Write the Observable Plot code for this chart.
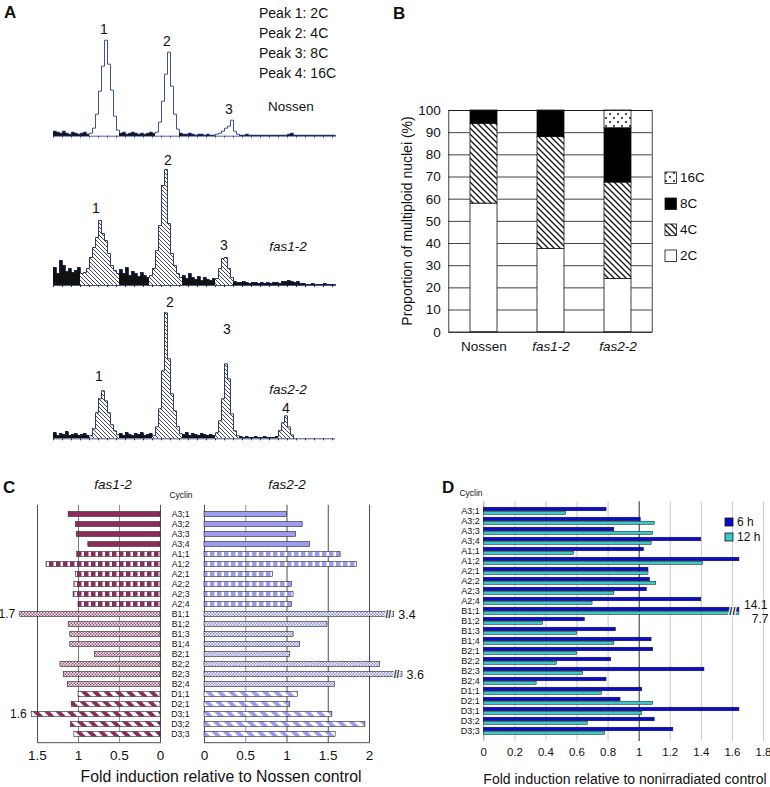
<!DOCTYPE html>
<html><head><meta charset="utf-8">
<script src="https://cdn.jsdelivr.net/npm/d3@7"></script>
<script src="https://cdn.jsdelivr.net/npm/@observablehq/plot@0.6"></script>
<style>
body{margin:0;background:#fff;}
#page{position:relative;width:770px;height:787px;overflow:hidden;font-family:"Liberation Sans",Arial,sans-serif;color:#111;background:#fff;}
#page svg.plotlayer{position:absolute;left:0;top:0;}
.lbl{position:absolute;line-height:1;white-space:nowrap;}
</style></head><body>
<div id="page">
<svg width="0" height="0" style="position:absolute">
<defs>
<pattern id="hatchA" patternUnits="userSpaceOnUse" width="4" height="4">
<rect width="4" height="4" fill="#fff"/>
<path d="M-1,-1 L5,5 M-1,3 L1,5 M3,-1 L5,1" stroke="#1a1a2a" stroke-width="0.8"/>
</pattern>
<pattern id="hatchB" patternUnits="userSpaceOnUse" width="6" height="6">
<rect width="6" height="6" fill="#fff"/>
<path d="M-1,-1 L7,7 M-1,5 L1,7 M5,-1 L7,1" stroke="#111" stroke-width="1.3"/>
</pattern>
<pattern id="dotsB" patternUnits="userSpaceOnUse" width="8" height="8">
<rect width="8" height="8" fill="#fff"/>
<circle cx="2" cy="2" r="1" fill="#111"/><circle cx="6" cy="6" r="1" fill="#111"/>
</pattern>
<pattern id="dash1" patternUnits="userSpaceOnUse" width="7" height="10">
<rect width="7" height="10" fill="#fff"/><rect width="4.5" height="10" fill="#8e2b5d"/>
</pattern>
<pattern id="dot1" patternUnits="userSpaceOnUse" width="3" height="3">
<rect width="3" height="3" fill="#fff"/><rect width="1.5" height="1.5" fill="#a24878"/><rect x="1.5" y="1.5" width="1.5" height="1.5" fill="#a24878"/>
</pattern>
<pattern id="stripe1" patternUnits="userSpaceOnUse" width="8" height="8" patternTransform="rotate(-45)">
<rect width="8" height="8" fill="#fff"/><rect width="4" height="8" fill="#8e2b5d"/>
</pattern>
<pattern id="dash2" patternUnits="userSpaceOnUse" width="7" height="10">
<rect width="7" height="10" fill="#fff"/><rect width="4.5" height="10" fill="#9c9cf0"/>
</pattern>
<pattern id="dot2" patternUnits="userSpaceOnUse" width="3" height="3">
<rect width="3" height="3" fill="#fff"/><rect width="1.5" height="1.5" fill="#8c8ce8"/><rect x="1.5" y="1.5" width="1.5" height="1.5" fill="#8c8ce8"/>
</pattern>
<pattern id="stripe2" patternUnits="userSpaceOnUse" width="8" height="8" patternTransform="rotate(-45)">
<rect width="8" height="8" fill="#fff"/><rect width="4" height="8" fill="#9c9cf0"/>
</pattern>
</defs>
</svg>
</div>
<script>
// ---------------- DATA ----------------
// Panel A: flow cytometry histograms (counts per 3-channel bin)
const nossenCounts = [5,4,3,5,3,2,4,3,2,3,4,2,
  3,8,22,45,70,96,72,46,20,6,
  3,4,2,3,4,3,2,3,2,3,4,3,
  4,14,35,62,84,50,22,7,
  3,2,2,3,2,1,2,2,1,2,1,
  1,2,3,5,8,10,16,5,2,
  1,1,2,1,1,1,1,1,1,1,1,1,1,1,1,1,2,3,1,1,1,1,1,1,1,1,1,1,1,1,1,1];
const nossenPeaks = [[12,21],[34,41],[54,61]];
const fas1Counts = [18,12,25,20,14,17,13,15,18,
  12,13,17,28,38,48,65,52,45,32,20,15,12,
  16,12,18,10,14,12,9,13,10,8,
  10,17,35,60,100,116,62,32,20,12,8,
  10,7,12,8,6,9,5,8,6,5,7,
  7,17,27,28,17,8,
  4,3,3,4,3,2,3,3,2,3,2,3,2,3,3,2,4,4,5,4,3,4,2,2,1,1,2,1,1,1,2,1,1,1];
const fas1Peaks = [[9,21],[32,42],[54,59]];
const fas2Counts = [6,3,5,4,7,3,4,5,3,4,5,3,
  3,10,26,40,48,38,26,14,8,4,
  5,3,6,4,3,5,4,6,3,4,5,
  3,12,30,68,126,80,45,28,12,5,
  4,6,3,5,4,3,5,4,3,4,3,
  6,18,40,75,60,25,8,3,
  2,1,2,1,1,2,1,1,2,1,1,1,2,
  8,16,23,12,4];
const fas2Peaks = [[12,21],[33,42],[54,61],[75,79]];
const peakLegend = ["Peak 1: 2C","Peak 2: 4C","Peak 3: 8C","Peak 4: 16C"];

// Panel B: ploidy distribution (%)
const samples = ["Nossen","fas1-2","fas2-2"];
const ploidy = ["2C","4C","8C","16C"];
const p2C = [58, 37.5, 24];
const p4C = [36, 50.5, 43.5];
const p8C = [6, 12, 24.5];
const p16C = [0, 0, 8];
const bTicks = [0,10,20,30,40,50,60,70,80,90,100];

// Panel C & D: cyclins
const cyclins = ["A3;1","A3;2","A3;3","A3;4","A1;1","A1;2","A2;1","A2;2","A2;3","A2;4",
  "B1;1","B1;2","B1;3","B1;4","B2;1","B2;2","B2;3","B2;4","D1;1","D2;1","D3;1","D3;2","D3;3"];
const fas1Fold = [1.12,1.03,1.02,0.88,1.02,1.39,1.03,1.05,1.06,1.00,1.71,1.12,1.10,1.10,0.80,1.22,1.18,1.13,1.00,1.08,1.57,1.09,1.05];
const fas2Fold = [1.00,1.19,1.11,1.28,1.65,1.85,0.83,1.06,1.08,1.06,3.4,1.49,1.08,1.16,1.04,2.13,3.6,1.58,1.13,1.04,1.55,1.95,1.59];
const cTicksLeft = [0,0.5,1,1.5];
const cTicksRight = [0,0.5,1,1.5,2];
const h6 = [0.79,1.01,0.84,1.40,1.03,1.71,1.06,1.07,1.05,1.40,14.1,0.65,0.85,1.08,1.09,0.82,1.42,0.79,1.02,0.88,1.65,1.10,1.22];
const h12 = [0.53,1.10,1.09,1.08,0.58,1.41,1.06,1.11,0.84,0.70,7.7,0.38,0.60,0.84,0.60,0.47,0.64,0.34,0.76,1.09,1.02,0.67,0.78];
const dTicks = [0,0.2,0.4,0.6,0.8,1,1.2,1.4,1.6,1.8];

// ---------------- HELPERS ----------------
const FONT = '"Liberation Sans", Arial, sans-serif';
const page = document.getElementById("page");
function layer(opts, fontSize = "13px") {
  const svg = Plot.plot({
    width: 770, height: 787,
    style: {background: "transparent", fontFamily: FONT, fontSize, color: "#111", overflow: "visible"},
    ...opts
  });
  svg.classList.add("plotlayer");
  page.appendChild(svg);
  return svg;
}
function label(txt, x, y, o = {}) {
  const el = document.createElement("div");
  el.className = "lbl";
  el.textContent = txt;
  el.style.left = x + "px";
  el.style.top = y + "px";
  el.style.fontSize = (o.size || 13) + "px";
  if (o.bold) el.style.fontWeight = "bold";
  if (o.italic) el.style.fontStyle = "italic";
  const tx = o.anchor === "middle" ? "-50%" : o.anchor === "end" ? "-100%" : "0";
  el.style.transform = `translate(${tx},-50%)` + (o.rotate ? ` rotate(${o.rotate}deg)` : "");
  page.appendChild(el);
  return el;
}
function swatch(x, y, size, fill) {
  const ns = "http://www.w3.org/2000/svg";
  const s = document.createElementNS(ns, "svg");
  s.setAttribute("width", size + 2); s.setAttribute("height", size + 2);
  s.style.position = "absolute"; s.style.left = (x - 1) + "px"; s.style.top = (y - 1) + "px";
  const r = document.createElementNS(ns, "rect");
  r.setAttribute("x", 1); r.setAttribute("y", 1); r.setAttribute("width", size); r.setAttribute("height", size);
  r.setAttribute("fill", fill); r.setAttribute("stroke", "#111"); r.setAttribute("stroke-width", 0.8);
  s.appendChild(r); page.appendChild(s);
}

// ---------------- PANEL A ----------------
const BIN = 3;
function hist(counts, peaks, base, ymax, peakFill, outline) {
  const bins = counts.map((c, i) => ({x1: i * BIN, x2: i * BIN + BIN, c, peak: peaks.some(([a, b]) => i >= a && i <= b)}));
  const pts = bins.map(d => ({x: d.x1, c: d.c})).concat([{x: bins[bins.length - 1].x2, c: 0}]);
  layer({
    marginLeft: 53, marginRight: 770 - 335, marginTop: base - ymax, marginBottom: 787 - base,
    x: {domain: [0, 282], axis: null, label: null},
    y: {domain: [0, ymax], axis: null, label: null},
    marks: [
      Plot.rectY(bins.filter(d => !d.peak), {x1: "x1", x2: "x2", y1: 0, y2: "c", fill: "#111", shapeRendering: "crispEdges"}),
      Plot.rectY(bins.filter(d => d.peak), {x1: "x1", x2: "x2", y1: 0, y2: "c", fill: peakFill, shapeRendering: "crispEdges"}),
      Plot.lineY(pts, {x: "x", y: "c", curve: "step-after", stroke: outline, strokeWidth: 0.9}),
      Plot.ruleY([0], {x1: 0, x2: 282, stroke: outline, strokeWidth: 0.8}),
      Plot.axisX({ticks: d3.range(0, 283, 9), tickSize: 2, tickFormat: () => "", stroke: outline, label: null})
    ]
  });
}
hist(nossenCounts, nossenPeaks, 135.7, 100, "#fff", "#2a3f8f");
hist(fas1Counts, fas1Peaks, 285, 120, "url(#hatchA)", "#1c2a5a");
hist(fas2Counts, fas2Peaks, 438.3, 130, "url(#hatchA)", "#1c2a5a");

label("A", 4, 12, {size: 17, bold: true});
peakLegend.forEach((t, i) => label(t, 259, 13 + i * 20, {size: 14}));
label("1", 104, 29, {size: 14, anchor: "middle"});
label("2", 167, 41, {size: 14, anchor: "middle"});
label("3", 229, 109, {size: 14, anchor: "middle"});
label("Nossen", 291, 107, {size: 13.5, anchor: "middle"});
label("1", 96, 208, {size: 14, anchor: "middle"});
label("2", 168, 160, {size: 14, anchor: "middle"});
label("3", 224, 245, {size: 14, anchor: "middle"});
label("fas1-2", 288, 247, {size: 13.5, anchor: "middle", italic: true});
label("1", 99, 376, {size: 14, anchor: "middle"});
label("2", 170, 302, {size: 14, anchor: "middle"});
label("3", 227, 329, {size: 14, anchor: "middle"});
label("fas2-2", 288, 390, {size: 13.5, anchor: "middle", italic: true});
label("4", 286, 408, {size: 14, anchor: "middle"});

// ---------------- PANEL B ----------------
const layers = {"2C": p2C, "4C": p4C, "8C": p8C, "16C": p16C};
const bRows = [];
samples.forEach((s, i) => ploidy.forEach(p => { if (layers[p][i] > 0) bRows.push({s, p, v: layers[p][i]}); }));
const bSvg = layer({
  marginLeft: 448.3, marginRight: 118.3, marginTop: 110, marginBottom: 787 - 331.7,
  x: {domain: samples, paddingInner: 0.6, paddingOuter: 0.3, label: null, axis: null},
  y: {domain: [0, 100], label: null, axis: null},
  color: {type: "ordinal", domain: ploidy, range: ["#fff", "url(#hatchB)", "#000", "url(#dotsB)"]},
  marks: [
    Plot.gridY({ticks: bTicks, stroke: "#111", strokeOpacity: 1, strokeWidth: 0.8}),
    Plot.barY(bRows, {x: "s", y: "v", fill: "p", stroke: "#111", strokeWidth: 0.8}),
    Plot.frame({stroke: "#111", strokeWidth: 0.8}),
    Plot.axisY({ticks: bTicks, tickSize: 0, tickPadding: 8, label: null}),
    Plot.axisX({tickSize: 0, tickPadding: 9, label: null})
  ]
}, "13.5px");
bSvg.querySelectorAll("text").forEach(t => { if (t.textContent.startsWith("fas")) t.style.fontStyle = "italic"; });
label("B", 393, 13, {size: 17, bold: true});
label("Proportion of multiploid nuclei (%)", 406.5, 221, {size: 14, anchor: "middle", rotate: -90});
const bLegend = [["16C", "url(#dotsB)"], ["8C", "#000"], ["4C", "url(#hatchB)"], ["2C", "#fff"]];
bLegend.forEach(([t, f], i) => {
  const cy = 178 + i * 26;
  swatch(665, cy - 6, 11.5, f);
  label(t, 680, cy, {size: 13.5});
});

// ---------------- PANEL C ----------------
function cType(c) { return c.startsWith("A3") ? "solid" : c[0] === "A" ? "dash" : c[0] === "B" ? "dot" : "stripe"; }
const INS = 2.6;
function cBars(vals, colour, suffix, displayFn) {
  const rows = cyclins.map((c, i) => ({c, v: vals[i], d: displayFn(vals[i]), t: cType(c)}));
  const fills = {solid: colour, dash: `url(#dash${suffix})`, dot: `url(#dot${suffix})`, stripe: `url(#stripe${suffix})`};
  return ["solid", "dash", "dot", "stripe"].map(t =>
    Plot.barX(rows.filter(r => r.t === t), {x: "d", y: "c", fill: fills[t], stroke: "#222", strokeWidth: 0.6, insetTop: INS, insetBottom: INS}));
}
const rowsC1 = cyclins.map((c, i) => ({c, v: fas1Fold[i]}));
layer({
  marginLeft: 37, marginRight: 770 - 160, marginTop: 504.8, marginBottom: 787 - 742.2,
  x: {domain: [0, 1.5], reverse: true, axis: null, label: null},
  y: {domain: cyclins, padding: 0, axis: null, label: null},
  marks: [
    Plot.ruleX([1.5, 0], {stroke: "#222", strokeWidth: 0.8}),
    Plot.ruleX([1], {stroke: "#555", strokeWidth: 0.8}),
    Plot.ruleX([0.5], {stroke: "#777", strokeWidth: 0.8}),
    Plot.frame({anchor: "bottom", stroke: "#222", strokeWidth: 0.8}),
    ...cBars(fas1Fold, "#8e2b5d", "1", v => v),
    Plot.text(rowsC1.filter(r => r.v > 1.5), {x: "v", y: "c", text: d => d3.format(".1f")(d.v), textAnchor: "end", dx: -5, fontSize: 12}),
    Plot.axisX({ticks: cTicksLeft, tickSize: 0, tickPadding: 8, tickFormat: d => String(d), label: null})
  ]
}, "13.5px");
// broken axis beyond 2.25 (compressed)
const brk2 = v => v > 2.5 ? 2.3 + (v - 3.4) * 0.5 : v;
const rowsC2 = cyclins.map((c, i) => ({c, v: fas2Fold[i], d: brk2(fas2Fold[i])}));
layer({
  marginLeft: 204, marginRight: 770 - 369, marginTop: 504.8, marginBottom: 787 - 742.2,
  x: {domain: [0, 2], axis: null, label: null},
  y: {domain: cyclins, padding: 0, axis: null, label: null},
  marks: [
    Plot.ruleX([0, 1, 1.5, 2], {stroke: "#222", strokeWidth: 0.8}),
    Plot.ruleX([0.5], {stroke: "#777", strokeWidth: 0.8}),
    Plot.frame({anchor: "bottom", stroke: "#222", strokeWidth: 0.8}),
    ...cBars(fas2Fold, "#9c9cf0", "2", brk2),
    Plot.text(rowsC2.filter(r => r.v > 2.5), {x: "d", y: "c", text: () => "//", dx: -6, fontSize: 10, fontWeight: "bold", fill: "#222", stroke: "#fff", strokeWidth: 2.5}),
    Plot.text(rowsC2.filter(r => r.v > 2.5), {x: "d", y: "c", text: d => String(d.v), textAnchor: "start", dx: 4, fontSize: 12.5}),
    Plot.axisX({ticks: cTicksRight, tickSize: 0, tickPadding: 8, tickFormat: d => String(d), label: null}),
    Plot.axisY({tickSize: 0, tickPadding: 15, fontSize: 8.7, label: null})
  ]
}, "13.5px");
label("C", 3, 487, {size: 17, bold: true});
label("fas1-2", 113, 485, {size: 13.5, anchor: "middle", italic: true});
label("fas2-2", 287, 485, {size: 13.5, anchor: "middle", italic: true});
label("Cyclin", 181, 495, {size: 8.5, anchor: "middle"});
label("Fold induction relative to Nossen control", 221, 777, {size: 15.8, anchor: "middle"});

// ---------------- PANEL D ----------------
const CAP = 1.645;
const dRows = cyclins.map((c, i) => ({c, a: h6[i], b: h12[i], ad: Math.min(h6[i], CAP), bd: Math.min(h12[i], CAP)}));
const STEP = (741 - 501.3) / cyclins.length;
layer({
  marginLeft: 483.3, marginRight: 7, marginTop: 501.3, marginBottom: 787 - 741,
  x: {domain: [0, 1.8], axis: null, label: null},
  y: {domain: cyclins, padding: 0, axis: null, label: null},
  marks: [
    Plot.ruleX(dTicks.filter(t => t !== 1 && t !== 0), {stroke: "#bbb", strokeWidth: 0.8}),
    Plot.ruleX([0], {stroke: "#888", strokeWidth: 0.8}),
    Plot.ruleX([1], {stroke: "#111", strokeWidth: 0.9}),
    Plot.barX(dRows, {x: "ad", y: "c", fill: "#0c0cc8", stroke: "#111", strokeWidth: 0.5, insetTop: STEP / 2 - 4, insetBottom: STEP / 2}),
    Plot.barX(dRows, {x: "bd", y: "c", fill: "#3cc8c8", stroke: "#111", strokeWidth: 0.5, insetTop: STEP / 2, insetBottom: STEP / 2 - 3.6}),
    Plot.text(dRows.filter(r => r.a > 1.8), {x: "ad", y: "c", text: () => "//", dx: -7, fontSize: 11, fontWeight: "bold", fill: "#222", stroke: "#fff", strokeWidth: 2.5}),
    Plot.text(dRows.filter(r => r.a > 1.8), {x: "ad", y: "c", text: d => String(d.a), textAnchor: "end", dx: 28, dy: -6, fontSize: 12}),
    Plot.text(dRows.filter(r => r.b > 1.8), {x: "bd", y: "c", text: d => String(d.b), textAnchor: "end", dx: 29, dy: 8, fontSize: 12}),
    Plot.axisX({ticks: dTicks, tickSize: 0, tickPadding: 6, tickFormat: d => String(d), label: null}),
    Plot.axisY({tickSize: 0, tickPadding: 4, fontSize: 9, label: null})
  ]
}, "11.5px");
label("D", 442, 487, {size: 17, bold: true});
label("Cyclin", 471, 493, {size: 8.5, anchor: "middle"});
swatch(725, 518, 8, "#0c0cc8");
label("6 h", 737, 522, {size: 12});
swatch(725, 533, 8, "#3cc8c8");
label("12 h", 737, 537, {size: 12});
label("Fold induction relative to nonirradiated control", 625, 779, {size: 14, anchor: "middle"});
</script>
</body></html>
